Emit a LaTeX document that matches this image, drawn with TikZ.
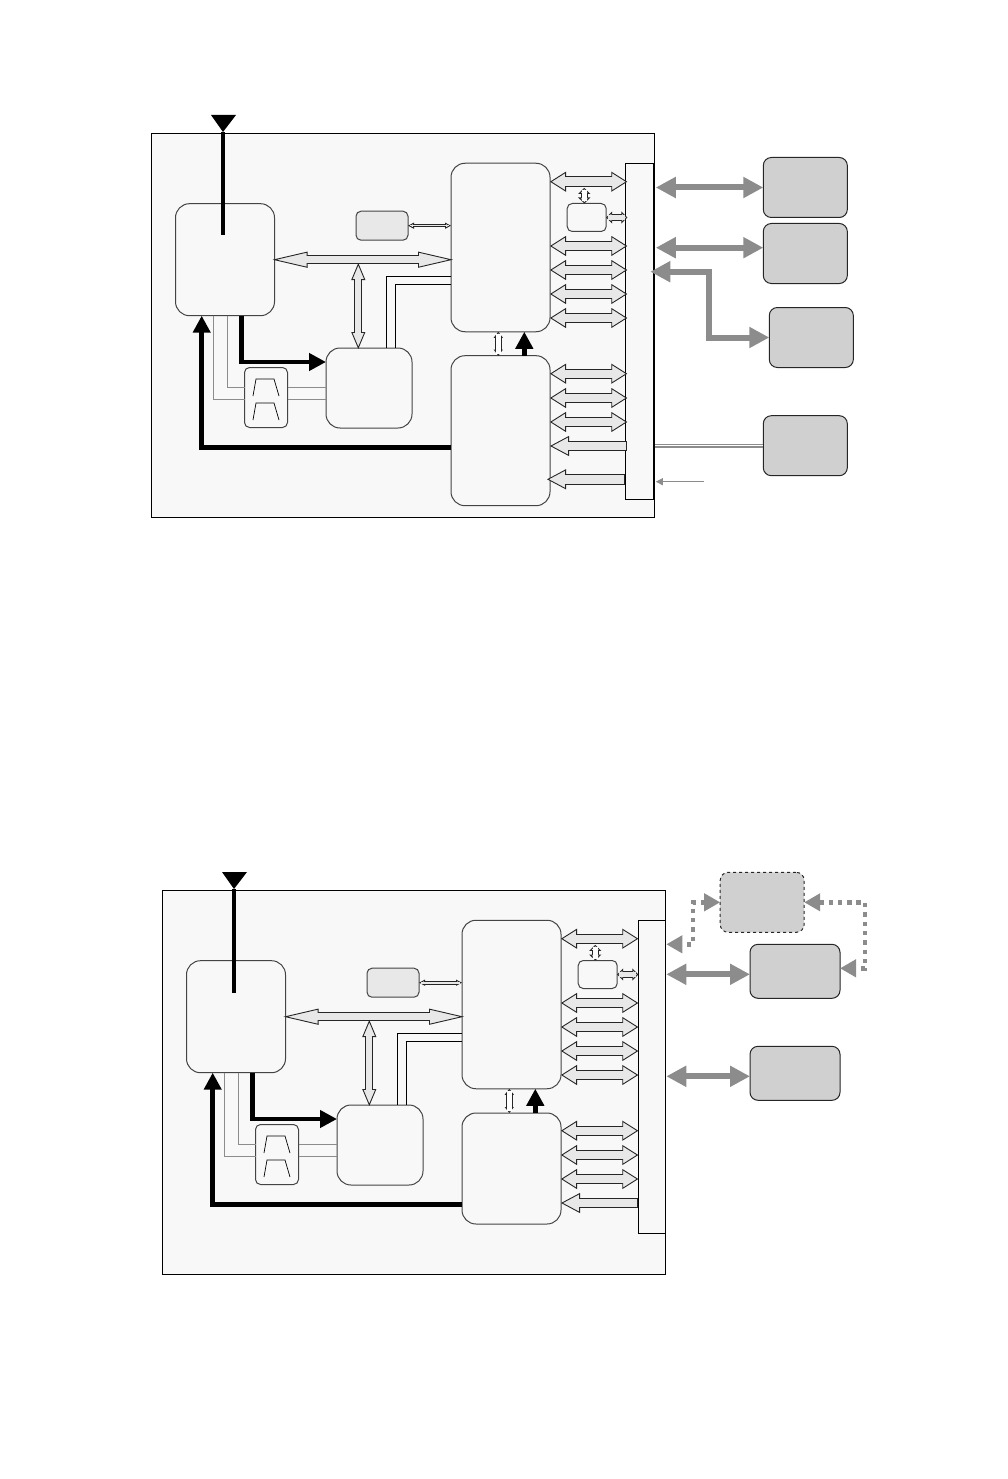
\documentclass[tikz,border=0pt]{standalone}
\usepackage{tikz}
\usetikzlibrary{
  arrows.meta,
  calc
}
\definecolor{boardfill}{HTML}{F8F8F8}
\definecolor{busfill}{HTML}{E8E8E8}
\definecolor{periphfill}{HTML}{D0D0D0}
\definecolor{linkgray}{HTML}{8C8C8C}
\definecolor{edgegray}{HTML}{444444}
\definecolor{wiregray}{HTML}{8C8C8C}
\tikzset{
  board/.style={rectangle, draw=black, fill=boardfill, line width=1pt, inner sep=0pt, outer sep=0pt},
  block/.style={rectangle, draw=edgegray, fill=boardfill, rounded corners=14pt, line width=1pt, inner sep=0pt, outer sep=0pt},
  smallblock/.style={rectangle, draw=edgegray, fill=#1, rounded corners=5pt, line width=1pt, inner sep=0pt, outer sep=0pt},
  smallblock/.default=boardfill,
  periph/.style={rectangle, draw=black!85, fill=periphfill, rounded corners=8pt, line width=1pt, inner sep=0pt, outer sep=0pt},
  fatarrow/.style n args={4}{
    {Triangle[length=#2,width=#3,fill=#4,line width=0.9pt]}-{Triangle[length=#2,width=#3,fill=#4,line width=0.9pt]},
    draw=black!85, line width=#1,
    postaction={draw=#4, arrows=-, line width=#1-2pt, shorten <=#2-4pt, shorten >=#2-4pt}
  },
  busarrow/.style={fatarrow={10.4pt}{16pt}{20pt}{busfill}},
  inarrow/.style={
    {Triangle[length=19pt,width=20pt,fill=busfill,line width=0.9pt]}-,
    draw=black!85, line width=10.4pt,
    postaction={draw=busfill, arrows=-, line width=8.4pt, shorten <=15pt, shorten >=1pt}
  },
  heavy/.style={line width=4.6pt, black},
  heavyarrow/.style={-{Triangle[length=17pt,width=17pt]}, line width=4.6pt, black},
  wire/.style={line width=1.2pt, wiregray},
  linkarrow/.style={{Triangle[length=20pt,width=20pt]}-{Triangle[length=20pt,width=20pt]}, line width=6pt, linkgray},
  dotarrow/.style={{Triangle[length=16pt,width=17pt]}-{Triangle[length=16pt,width=17pt]}, line width=4.4pt, linkgray, dash pattern=on 4.4pt off 4.9pt},
}
\begin{document}
\begin{tikzpicture}[x=1pt, y=-1pt]
\useasboundingbox (0,0) rectangle (1007,1479);

% Upper board
\node[board, minimum width=503pt, minimum height=384pt] (boardA) at (403,325.5) {};
\node[block, minimum width=99pt, minimum height=112pt] (rfA) at (225,259.7) {};
\node[smallblock=busfill, minimum width=52pt, minimum height=29pt] (clkA) at (382,225.7) {};
\node[block, minimum width=99pt, minimum height=168.5pt] (cpuA) at (500.5,247.5) {};
\node[block, minimum width=99pt, minimum height=150pt] (ioA) at (500.5,430.7) {};
\node[block, minimum width=86pt, minimum height=80pt] (xcvrA) at (369,388) {};
\node[smallblock, minimum width=43pt, minimum height=60pt] (filtA) at (266,397.5) {};
\node[smallblock, minimum width=39pt, minimum height=28pt] (memA) at (586.7,217.5) {};
\node[board, minimum width=28pt, minimum height=336pt] (conA) at (639.3,331.2) {};

% Antenna
\coordinate (antA) at (223,132);
\fill (211,115) -- (236,115) -- (antA) -- cycle;
\draw[heavy] (antA) -- (223,235.5);

% Filter glyph
\draw[line width=0.7pt] (253,396) -- (256,379) -- (274,379) -- (279,396);
\draw[line width=0.7pt] (253,420) -- (256,403) -- (274,403) -- (279,420);

% Wires
\draw[wire] (rfA.south -| 227.3,0) |- (filtA.west |- 0,387.7);
\draw[wire] (rfA.south -| 213.7,0) |- (filtA.west |- 0,399.7);
\draw[wire] (filtA.east |- 0,387.7) -- (xcvrA.west |- 0,387.7);
\draw[wire] (filtA.east |- 0,399.7) -- (xcvrA.west |- 0,399.7);
\draw[line width=0.9pt] (cpuA.west |- 0,276.7) -| (xcvrA.north -| 386.3,0);
\draw[line width=0.9pt] (cpuA.west |- 0,284) -| (xcvrA.north -| 395.3,0);

% Host bus
\coordinate (tapA) at (358.3,264);
\draw[fatarrow={9pt}{35pt}{16pt}{busfill}, shorten <=-2pt, shorten >=-2pt] (rfA.east) -- (cpuA.west |- rfA.east);
\draw[fatarrow={8pt}{17pt}{14pt}{busfill}, shorten <=-1pt, shorten >=-1pt] (tapA) -- (xcvrA.north -| tapA);
\draw[fatarrow={3.6pt}{6pt}{6pt}{busfill}] (clkA.east) -- (cpuA.west |- clkA.east);

% RF paths
\draw[heavyarrow] (rfA.south -| 241.3,0) |- (xcvrA.west |- 0,362);
\draw[heavyarrow] (ioA.west |- 0,447.7) -| (rfA.south -| 201.7,0);
\draw[heavyarrow] (ioA.north -| 524.3,0) -- (cpuA.south -| 524.3,0);
\draw[fatarrow={6.4pt}{6pt}{9pt}{white}] (cpuA.south -| 498.3,0) -- (ioA.north -| 498.3,0);

% Connector buses
\draw[busarrow] (cpuA.east |- 0,181.7) -- ($(conA.west |- 0,181.7)+(2,0)$);
\draw[busarrow] (cpuA.east |- 0,246) -- ($(conA.west |- 0,246)+(2,0)$);
\draw[busarrow] (cpuA.east |- 0,270) -- ($(conA.west |- 0,270)+(2,0)$);
\draw[busarrow] (cpuA.east |- 0,294) -- ($(conA.west |- 0,294)+(2,0)$);
\draw[busarrow] (cpuA.east |- 0,318) -- ($(conA.west |- 0,318)+(2,0)$);
\draw[busarrow] (ioA.east |- 0,373.7) -- ($(conA.west |- 0,373.7)+(2,0)$);
\draw[busarrow] (ioA.east |- 0,398) -- ($(conA.west |- 0,398)+(2,0)$);
\draw[busarrow] (ioA.east |- 0,422) -- ($(conA.west |- 0,422)+(2,0)$);
\draw[inarrow] (ioA.east |- 0,446) -- ($(conA.west |- 0,446)+(2,0)$);
\draw[inarrow] ($(ioA.east |- 0,479.3)+(-3,0)$) -- (conA.west |- 0,479.3);
\draw[fatarrow={6.4pt}{6pt}{12pt}{white}] (memA.north -| 584.3,0) ++(0,-15.6) -- (memA.north -| 584.3,0);
\draw[fatarrow={6.4pt}{6pt}{12pt}{busfill}] (memA.east) -- ($(conA.west |- memA.east)+(2,0)$);

% Peripherals
\node[periph, minimum width=84pt, minimum height=60pt] (extA) at (805.3,187.5) {};
\node[periph, minimum width=84pt, minimum height=60pt] (extB) at (805.3,253.5) {};
\node[periph, minimum width=84pt, minimum height=60pt] (extC) at (811.3,337.5) {};
\node[periph, minimum width=84pt, minimum height=60pt] (extD) at (805.3,445.7) {};
\draw[linkarrow] (conA.east |- extA.west) ++(2.5,0) -- (extA.west);
\draw[linkarrow] ($(conA.east |- 0,247.7)+(2.5,0)$) -- (extB.west |- 0,247.7);
\draw[linkarrow] ($(conA.east |- 0,271.7)+(-3,0)$) -| (709.3,337.5) -- (extC.west);
\draw[line width=1.2pt, linkgray, double=white, double distance=1.2pt] ($(conA.east |- extD.west)+(2,0)$) -- (extD.west);
\coordinate (clkInA) at (704,481.7);
\draw[-{Triangle[length=7pt,width=7pt]}, line width=1pt, linkgray] (clkInA) -- ($(conA.east |- clkInA)+(2.5,0)$);

% Lower board
\node[board, minimum width=503pt, minimum height=384pt] (boardB) at (414,1082.5) {};
\node[block, minimum width=99pt, minimum height=112pt] (rfB) at (236,1016.7) {};
\node[smallblock=busfill, minimum width=52pt, minimum height=29pt] (clkB) at (393,982.7) {};
\node[block, minimum width=99pt, minimum height=168.5pt] (cpuB) at (511.5,1004.5) {};
\node[block, minimum width=99pt, minimum height=111pt] (ioB) at (511.5,1168.5) {};
\node[block, minimum width=86pt, minimum height=80pt] (xcvrB) at (380,1145) {};
\node[smallblock, minimum width=43pt, minimum height=60pt] (filtB) at (277,1154.5) {};
\node[smallblock, minimum width=39pt, minimum height=28pt] (memB) at (597.7,974.5) {};
\node[board, minimum width=27pt, minimum height=313pt] (conB) at (651.8,1076.7) {};

% Antenna
\coordinate (antB) at (234,889);
\fill (222,872) -- (247,872) -- (antB) -- cycle;
\draw[heavy] (antB) -- (234,992.5);

% Filter glyph
\draw[line width=0.7pt] (264,1153) -- (267,1136) -- (285,1136) -- (290,1153);
\draw[line width=0.7pt] (264,1177) -- (267,1160) -- (285,1160) -- (290,1177);

% Wires
\draw[wire] (rfB.south -| 238.3,0) |- (filtB.west |- 0,1144.7);
\draw[wire] (rfB.south -| 224.7,0) |- (filtB.west |- 0,1156.7);
\draw[wire] (filtB.east |- 0,1144.7) -- (xcvrB.west |- 0,1144.7);
\draw[wire] (filtB.east |- 0,1156.7) -- (xcvrB.west |- 0,1156.7);
\draw[line width=0.9pt] (cpuB.west |- 0,1033.7) -| (xcvrB.north -| 397.3,0);
\draw[line width=0.9pt] (cpuB.west |- 0,1041) -| (xcvrB.north -| 406.3,0);

% Host bus
\coordinate (tapB) at (369.3,1021);
\draw[fatarrow={9pt}{35pt}{16pt}{busfill}, shorten <=-2pt, shorten >=-2pt] (rfB.east) -- (cpuB.west |- rfB.east);
\draw[fatarrow={8pt}{17pt}{14pt}{busfill}, shorten <=-1pt, shorten >=-1pt] (tapB) -- (xcvrB.north -| tapB);
\draw[fatarrow={3.6pt}{6pt}{6pt}{busfill}] (clkB.east) -- (cpuB.west |- clkB.east);

% RF paths
\draw[heavyarrow] (rfB.south -| 252.3,0) |- (xcvrB.west |- 0,1119);
\draw[heavyarrow] (ioB.west |- 0,1204.7) -| (rfB.south -| 212.7,0);
\draw[heavyarrow] (ioB.north -| 535.3,0) -- (cpuB.south -| 535.3,0);
\draw[fatarrow={6.4pt}{6pt}{9pt}{white}] (cpuB.south -| 509.3,0) -- (ioB.north -| 509.3,0);

% Connector buses
\draw[busarrow] (cpuB.east |- 0,938.7) -- (conB.west |- 0,938.7);
\draw[busarrow] (cpuB.east |- 0,1003) -- (conB.west |- 0,1003);
\draw[busarrow] (cpuB.east |- 0,1027) -- (conB.west |- 0,1027);
\draw[busarrow] (cpuB.east |- 0,1051) -- (conB.west |- 0,1051);
\draw[busarrow] (cpuB.east |- 0,1075) -- (conB.west |- 0,1075);
\draw[busarrow] (ioB.east |- 0,1130.7) -- (conB.west |- 0,1130.7);
\draw[busarrow] (ioB.east |- 0,1155) -- (conB.west |- 0,1155);
\draw[busarrow] (ioB.east |- 0,1179) -- (conB.west |- 0,1179);
\draw[inarrow] (ioB.east |- 0,1203) -- (conB.west |- 0,1203);
\draw[fatarrow={6.4pt}{6pt}{12pt}{white}] (memB.north -| 595.3,0) ++(0,-15.6) -- (memB.north -| 595.3,0);
\draw[fatarrow={6.4pt}{6pt}{12pt}{busfill}] (memB.east) -- (conB.west |- memB.east);

% Peripherals
\node[periph, dashed, minimum width=84pt, minimum height=60pt] (extE) at (762.2,902.3) {};
\node[periph, minimum width=90pt, minimum height=54pt] (extF) at (795,971.3) {};
\node[periph, minimum width=90pt, minimum height=54pt] (extG) at (795,1073.3) {};
\draw[dotarrow] (extE.west) -| (693,944.3) -- ($(conB.east |- 0,944.3)+(1,0)$);
\draw[dotarrow] (extE.east) -| (865,968.3) -- (extF.east |- 0,968.3);
\draw[linkarrow] ($(conB.east |- 0,974.3)+(1,0)$) -- (extF.west |- 0,974.3);
\draw[linkarrow] ($(conB.east |- 0,1076.3)+(1,0)$) -- (extG.west |- 0,1076.3);

\end{tikzpicture}
\end{document}
